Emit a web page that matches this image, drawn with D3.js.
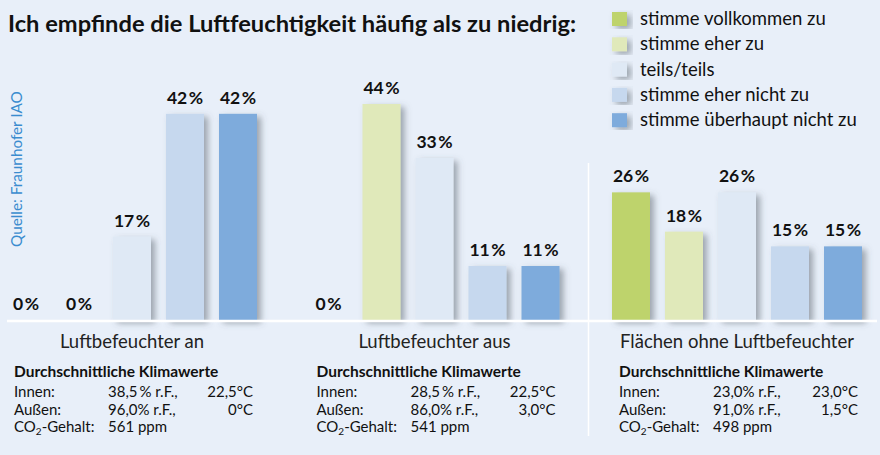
<!DOCTYPE html>
<html>
<head>
<meta charset="utf-8">
<script src="https://cdn.jsdelivr.net/npm/d3@7"></script>
<style>
  body { margin: 0; background: #e8eff9; }
  svg { display: block; font-family: Lato, "Open Sans", sans-serif; }
</style>
</head>
<body>
<div id="chart"></div>
<script>
// data
var title = "Ich empfinde die Luftfeuchtigkeit häufig als zu niedrig:";
var source = "Quelle: Fraunhofer IAO";
var categories = ["Luftbefeuchter an", "Luftbefeuchter aus", "Flächen ohne Luftbefeuchter"];
var answers = ["stimme vollkommen zu", "stimme eher zu", "teils/teils", "stimme eher nicht zu", "stimme überhaupt nicht zu"];
var colors = ["#bed36c", "#e0e9ba", "#dfe9f5", "#c6d8ee", "#7eabdc"];

var valuesAn = [0, 0, 17, 42, 42];
var valuesAus = [0, 44, 33, 11, 11];
var valuesOhne = [26, 18, 26, 15, 15];
var allValues = [valuesAn, valuesAus, valuesOhne];

// Durchschnittliche Klimawerte
var innenRF = ["38,5\u2009% r.F.,", "28,5\u2009% r.F.,", "23,0% r.F.,"];
var innenT = ["22,5°C", "22,5°C", "23,0°C"];
var aussenRF = ["96,0% r.F.,", "86,0% r.F.,", "91,0% r.F.,"];
var aussenT = ["0°C", "3,0°C", "1,5°C"];
var co2 = ["561 ppm", "541 ppm", "498 ppm"];

var width = 880, height = 455;
var baseY = 320;

var svg = d3.select("#chart").append("svg")
  .attr("width", width)
  .attr("height", height);

svg.append("rect").attr("width", width).attr("height", height).attr("fill", "#e8eff9");

// shadow like the original bars
var defs = svg.append("defs");
var f = defs.append("filter").attr("id", "shadow")
  .attr("x", "-30%").attr("y", "-10%").attr("width", "170%").attr("height", "130%");
f.append("feDropShadow")
  .attr("dx", 4).attr("dy", 3).attr("stdDeviation", 3)
  .attr("flood-color", "#4e5864").attr("flood-opacity", 0.5);

// scales
var xPanel = d3.scaleBand()
  .domain(categories)
  .range([-0.5, 869.5])
  .paddingInner(37.5 / 302.5)
  .paddingOuter(0);

var xBar = d3.scaleBand()
  .domain(answers)
  .range([0, xPanel.bandwidth()])
  .paddingInner(15 / 53)
  .paddingOuter(7.5 / 53);

var yScale = d3.scaleLinear().domain([0, 44]).range([baseY, 104]);
var colorScale = d3.scaleOrdinal().domain(answers).range(colors);

// title
svg.append("text")
  .attr("x", 8).attr("y", 32)
  .attr("font-size", 23).attr("font-weight", 700).attr("fill", "#111")
  .attr("textLength", 568).attr("lengthAdjust", "spacingAndGlyphs")
  .text(title);

// source, rotated
svg.append("text")
  .attr("transform", "translate(22,247) rotate(-90)")
  .attr("font-size", 15.3).attr("fill", "#3a8ccf")
  .text(source);

// bars
var panels = svg.append("g").attr("id", "barsgroup")
  .selectAll("g")
  .data(categories.map(function (c, i) { return { cat: c, values: allValues[i] }; }))
  .join("g")
  .attr("transform", function (d) { return "translate(" + xPanel(d.cat) + ",0)"; });

panels.selectAll("rect")
  .data(function (d) { return answers.map(function (a, j) { return { key: a, value: d.values[j] }; }); })
  .join("rect")
  .filter(function (d) { return d.value > 0; })
  .attr("x", function (d) { return xBar(d.key); })
  .attr("y", function (d) { return yScale(d.value); })
  .attr("width", xBar.bandwidth())
  .attr("height", function (d) { return baseY - yScale(d.value); })
  .attr("fill", function (d) { return colorScale(d.key); })
  .attr("filter", "url(#shadow)");

// value labels
var lbl = panels.selectAll("text.val")
  .data(function (d) { return answers.map(function (a, j) { return { key: a, value: d.values[j] }; }); })
  .join("text")
  .attr("class", "val")
  .attr("x", function (d) { return xBar(d.key) + xBar.bandwidth() / 2; })
  .attr("y", function (d) { return yScale(d.value) - 10; })
  .attr("text-anchor", "middle")
  .attr("font-size", 17.5).attr("font-weight", 700).attr("fill", "#111");
lbl.append("tspan").text(function (d) { return d.value; });
lbl.append("tspan").attr("dx", 1.5).text("%");

// white base line
svg.append("line")
  .attr("x1", 7).attr("x2", 877)
  .attr("y1", baseY + 1).attr("y2", baseY + 1)
  .attr("stroke", "#fff").attr("stroke-width", 2.5);

// separator before the third group
var sepX = xPanel(categories[2]) - 16;
svg.append("line")
  .attr("x1", sepX).attr("x2", sepX)
  .attr("y1", 163).attr("y2", 436)
  .attr("stroke", "#fff").attr("stroke-width", 1.5);

// category labels through the axis
var xAxis = svg.append("g").attr("class", "x axis")
  .attr("transform", "translate(0," + baseY + ")")
  .call(d3.axisBottom(xPanel).tickSize(0).tickPadding(14));
xAxis.select(".domain").remove();
xAxis.selectAll("text")
  .attr("font-family", "Lato, 'Open Sans', sans-serif")
  .attr("font-size", 18.5).attr("fill", "#222")
  .attr("dy", 0).attr("y", 28);

// climate tables
categories.forEach(function (c, i) {
  var tx = xPanel(c) + xBar(answers[0]) + xBar.bandwidth() / 2 - 12;
  var g = svg.append("g").attr("transform", "translate(" + tx + ",0)")
    .attr("font-size", 15).attr("fill", "#111");

  g.append("text").attr("x", 0).attr("y", 377).attr("font-weight", 700)
    .attr("font-size", 15.5)
    .text("Durchschnittliche Klimawerte");

  var rows = [
    ["Innen:", innenRF[i], innenT[i]],
    ["Außen:", aussenRF[i], aussenT[i]]
  ];
  rows.forEach(function (r, k) {
    var y = 397 + k * 17.5;
    g.append("text").attr("x", 0).attr("y", y).text(r[0]);
    g.append("text").attr("x", 94).attr("y", y).text(r[1]);
    g.append("text").attr("x", 239).attr("y", y).attr("text-anchor", "end").text(r[2]);
  });

  var co = g.append("text").attr("x", 0).attr("y", 432);
  co.append("tspan").text("CO");
  co.append("tspan").attr("font-size", 10).attr("dy", 3).text("2");
  co.append("tspan").attr("dy", -3).text("-Gehalt:");
  g.append("text").attr("x", 94).attr("y", 432).text(co2[i]);
});

// legend
var legend = svg.append("g").attr("class", "legend")
  .selectAll("g")
  .data(answers)
  .join("g")
  .attr("transform", function (d, i) { return "translate(612," + (12 + i * 25.3) + ")"; });

legend.append("rect")
  .attr("width", 15).attr("height", 14)
  .attr("fill", function (d) { return colorScale(d); })
  .attr("filter", "url(#shadow)");

legend.append("text")
  .attr("x", 28).attr("y", 13)
  .attr("font-size", 18.5).attr("fill", "#111")
  .text(function (d) { return d; });
</script>
</body>
</html>
